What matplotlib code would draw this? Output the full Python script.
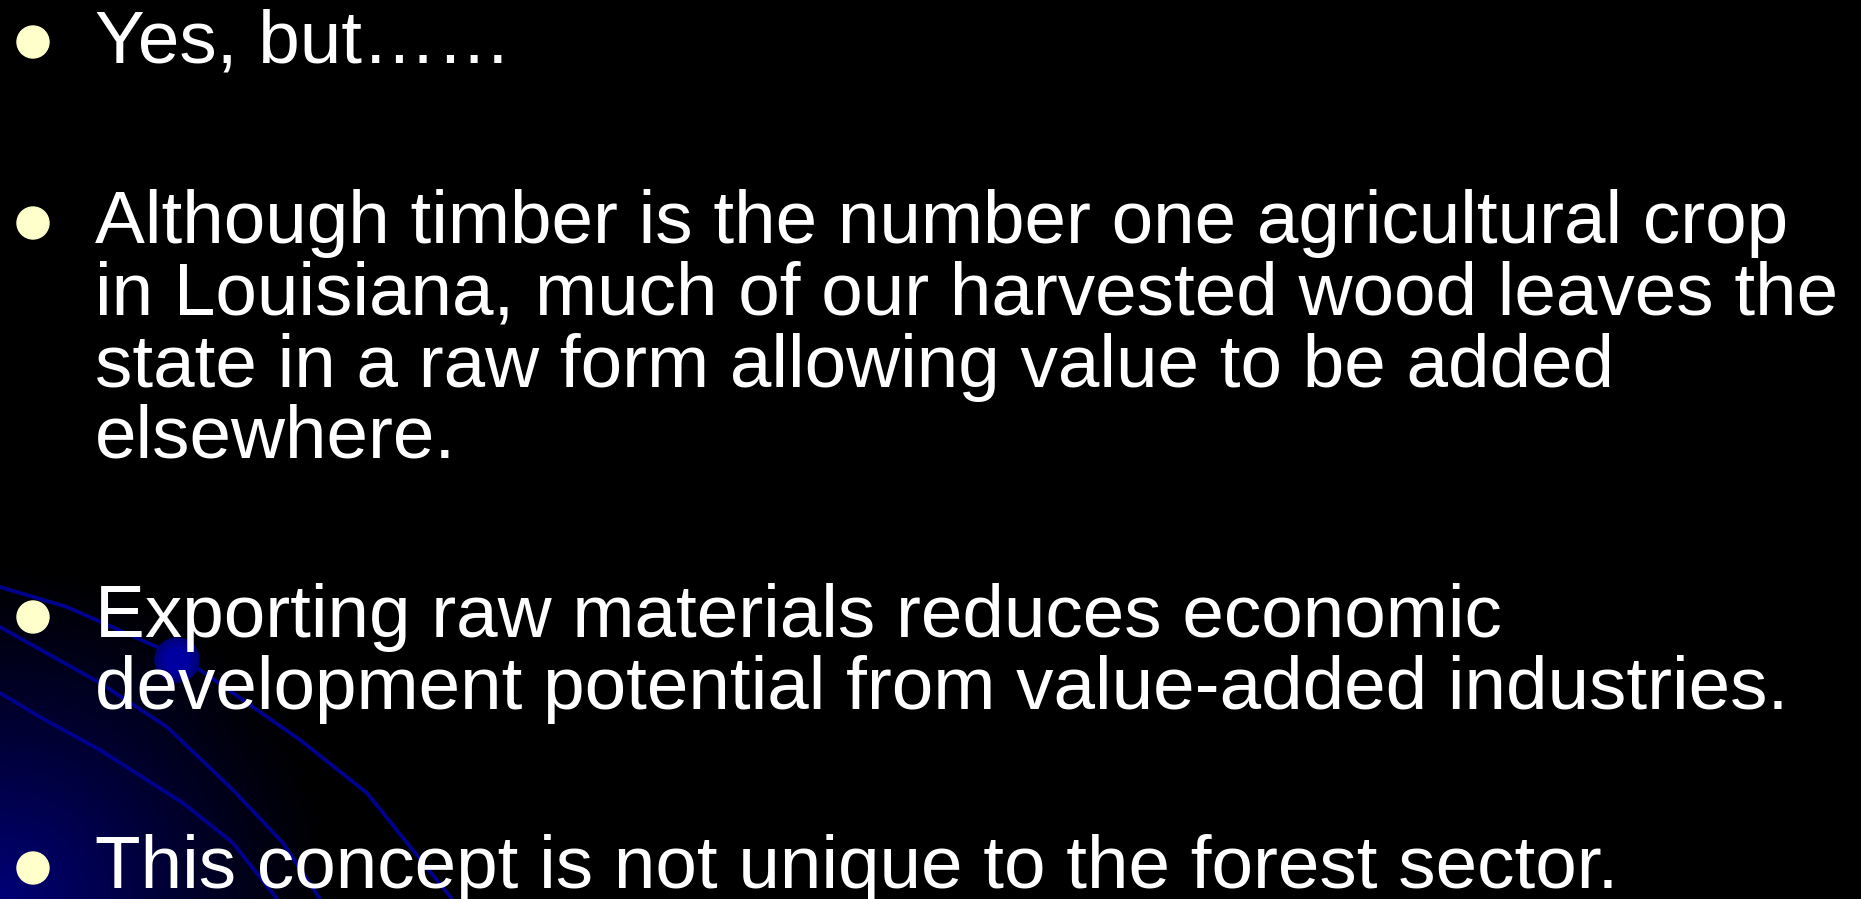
import numpy as np
import matplotlib
matplotlib.use('Agg')
import matplotlib.pyplot as plt
from matplotlib.patches import Circle

W, H = 1861, 899

# slide text, one entry per printed line
lines = [
    'Yes, but\u2026\u2026',
    'Although timber is the number one agricultural crop',
    'in Louisiana, much of our harvested wood leaves the',
    'state in a raw form allowing value to be added',
    'elsewhere.',
    'Exporting raw materials reduces economic',
    'development potential from value-added industries.',
    'This concept is not unique to the forest sector.',
]
baselines = [62, 243, 315, 387, 457, 637, 709, 888]
bullet_lines = [0, 1, 5, 7]

# decorative swoosh curves at the bottom left (pixel coords)
curve_a_x = [0, 67, 157, 200, 300, 367, 452]
curve_a_y = [587, 607, 647, 670, 740, 793, 899]
curve_b_x = [0, 100, 167, 233, 283, 320]
curve_b_y = [627, 683, 727, 790, 843, 899]
curve_c_x = [0, 40, 100, 183, 233, 277]
curve_c_y = [693, 717, 750, 803, 843, 899]

fig = plt.figure(figsize=(W / 100, H / 100), dpi=100)
fig.patch.set_facecolor('black')
ax = fig.add_axes([0, 0, 1, 1])
ax.set_xlim(0, W)
ax.set_ylim(H, 0)
ax.axis('off')

# dark blue glow from the bottom-left corner
yy, xx = np.mgrid[0:H, 0:W]
d = np.hypot(xx, H - yy)
fade = np.clip(1 - d / 340, 0, 1) ** 1.2
bg = np.zeros((H, W, 3))
bg[..., 2] = 0.47 * fade
ax.imshow(bg, extent=[0, W, H, 0], zorder=0, interpolation='bilinear')

for cx, cy in [(curve_a_x, curve_a_y), (curve_b_x, curve_b_y), (curve_c_x, curve_c_y)]:
    ax.plot(cx, cy, color='#00008f', lw=2.7, solid_capstyle='round', zorder=1)

# small glowing dot on the top curve
for r, c in [(22, '#00007a'), (18, '#00008c'), (13, '#0000a0')]:
    ax.add_patch(Circle((177, 660), r, color=c, zorder=2))

for i, (txt, base) in enumerate(zip(lines, baselines)):
    ax.text(95, base, txt, color='white', fontsize=53.8, family='Liberation Sans',
            va='baseline', ha='left', zorder=3)
    if i in bullet_lines:
        ax.add_patch(Circle((33, base - 20), 16, color='#ffffcc', zorder=3))

fig.savefig('out.png', dpi=100, facecolor='black')
